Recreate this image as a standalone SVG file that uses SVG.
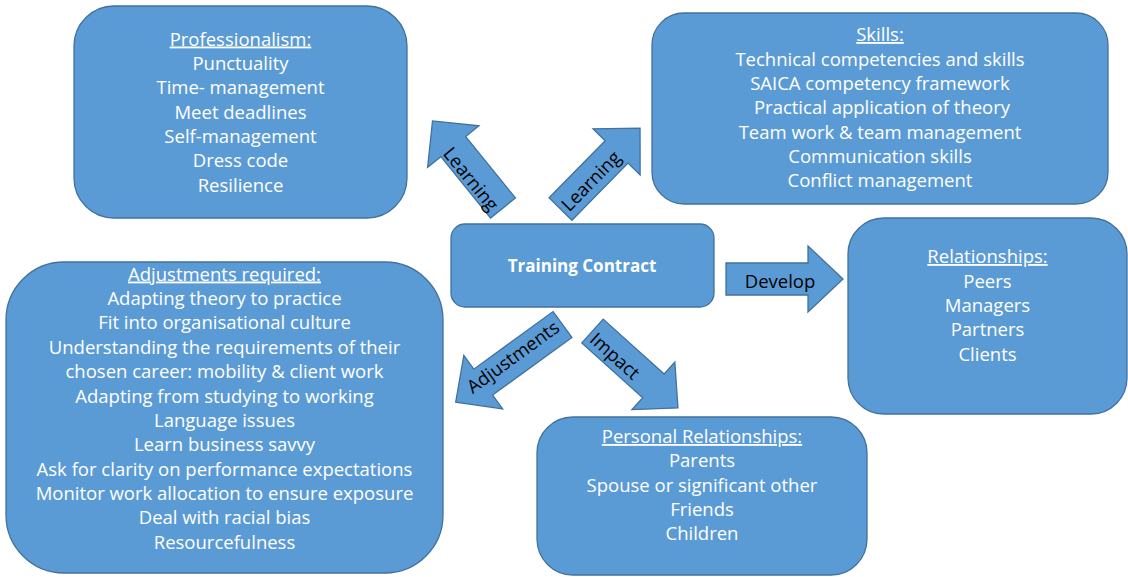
<svg xmlns="http://www.w3.org/2000/svg" width="1128" height="577" viewBox="0 0 1128 577">
  <defs>
    <style>
      .box { fill: #5B9BD5; stroke: #41719C; stroke-width: 1.3; }
      .arrow { fill: #5B9BD5; stroke: #41719C; stroke-width: 1.3; stroke-linejoin: miter; }
      .t { font-family: "Open Sans", "Liberation Sans", sans-serif; font-size: 18.5px; fill: #FFFFFF; text-anchor: middle; }
      .h { text-decoration: underline; }
      .b { font-weight: bold; font-size: 17px; }
      .lbl { font-family: "Open Sans", "Liberation Sans", sans-serif; font-size: 18.5px; fill: #000000; text-anchor: middle; }
    </style>
  </defs>
  <rect width="1128" height="577" fill="#FFFFFF"/>

  <!-- connectors: block arrows (drawn pointing along +x, then rotated) with their labels -->
  <g id="connectors">
    <g id="arrow-learning-professionalism" transform="translate(503,208) rotate(-129)">
      <polygon class="arrow" points="0,-16 79,-16 79,-33 112,0 79,33 79,16 0,16"/>
    </g>
    <text class="lbl" transform="translate(471,179) rotate(51)" x="0" y="6.5">Learning</text>

    <g id="arrow-learning-skills" transform="translate(560.5,209) rotate(-45.5)">
      <polygon class="arrow" points="0,-16 80,-16 80,-33 113.5,0 80,33 80,16 0,16"/>
    </g>
    <text class="lbl" transform="translate(591,181) rotate(-45.5)" x="0" y="6.5">Learning</text>

    <g id="arrow-develop">
      <polygon class="arrow" points="726,263 808,263 808,246 843,279 808,312 808,295 726,295"/>
    </g>
    <text class="lbl" x="780" y="288">Develop</text>

    <g id="arrow-adjustments" transform="translate(562.5,324.5) rotate(144)">
      <polygon class="arrow" points="0,-16 98,-16 98,-33 132,0 98,33 98,16 0,16"/>
    </g>
    <text class="lbl" transform="translate(513,357) rotate(-36)" x="0" y="6.5">Adjustments</text>

    <g id="arrow-impact" transform="translate(592.5,331) rotate(42)">
      <polygon class="arrow" points="0,-16 82,-16 82,-32 115,0 82,32 82,16 0,16"/>
    </g>
    <text class="lbl" transform="translate(615,356) rotate(42)" x="0" y="6.5">Impact</text>
  </g>

  <!-- central node -->
  <g id="training-contract">
    <rect class="box" x="451" y="224" width="263" height="83" rx="14"/>
    <text class="t b" x="582" y="272">Training Contract</text>
  </g>

  <g id="professionalism">
    <rect class="box" x="74" y="6" width="333" height="212" rx="40"/>
    <text class="t h" x="240.5" y="45.5">Professionalism:</text>
    <text class="t" x="240.5" y="70">Punctuality</text>
    <text class="t" x="240.5" y="94">Time- management</text>
    <text class="t" x="240.5" y="118.5">Meet deadlines</text>
    <text class="t" x="240.5" y="143">Self-management</text>
    <text class="t" x="240.5" y="167">Dress code</text>
    <text class="t" x="240.5" y="191.5">Resilience</text>
  </g>

  <g id="skills">
    <rect class="box" x="652" y="13" width="456" height="191" rx="32"/>
    <text class="t h" x="880" y="41">Skills:</text>
    <text class="t" x="880" y="65.5">Technical competencies and skills</text>
    <text class="t" x="880" y="90">SAICA competency framework</text>
    <text class="t" x="882" y="114">Practical application of theory</text>
    <text class="t" x="880" y="138.5">Team work &amp; team management</text>
    <text class="t" x="880" y="163">Communication skills</text>
    <text class="t" x="880" y="187">Conflict management</text>
  </g>

  <g id="relationships">
    <rect class="box" x="848" y="218" width="279" height="196" rx="36"/>
    <text class="t h" x="987.5" y="263">Relationships:</text>
    <text class="t" x="987.5" y="287.5">Peers</text>
    <text class="t" x="987.5" y="312">Managers</text>
    <text class="t" x="987.5" y="336">Partners</text>
    <text class="t" x="987.5" y="360.5">Clients</text>
  </g>

  <g id="adjustments-required">
    <rect class="box" x="6" y="262" width="437" height="311" rx="58"/>
    <text class="t h" x="224.5" y="280.5">Adjustments required:</text>
    <text class="t" x="224.5" y="305">Adapting theory to practice</text>
    <text class="t" x="224.5" y="329">Fit into organisational culture</text>
    <text class="t" x="224.5" y="354">Understanding the requirements of their</text>
    <text class="t" x="224.5" y="378">chosen career: mobility &amp; client work</text>
    <text class="t" x="224.5" y="402.5">Adapting from studying to working</text>
    <text class="t" x="224.5" y="427">Language issues</text>
    <text class="t" x="224.5" y="451">Learn business savvy</text>
    <text class="t" x="224.5" y="475.5">Ask for clarity on performance expectations</text>
    <text class="t" x="224.5" y="500">Monitor work allocation to ensure exposure</text>
    <text class="t" x="224.5" y="524">Deal with racial bias</text>
    <text class="t" x="224.5" y="548.5">Resourcefulness</text>
  </g>

  <g id="personal-relationships">
    <rect class="box" x="537" y="417" width="330" height="158" rx="36"/>
    <text class="t h" x="702" y="443">Personal Relationships:</text>
    <text class="t" x="702" y="467">Parents</text>
    <text class="t" x="702" y="491.5">Spouse or significant other</text>
    <text class="t" x="702" y="515.5">Friends</text>
    <text class="t" x="702" y="540">Children</text>
  </g>
</svg>
